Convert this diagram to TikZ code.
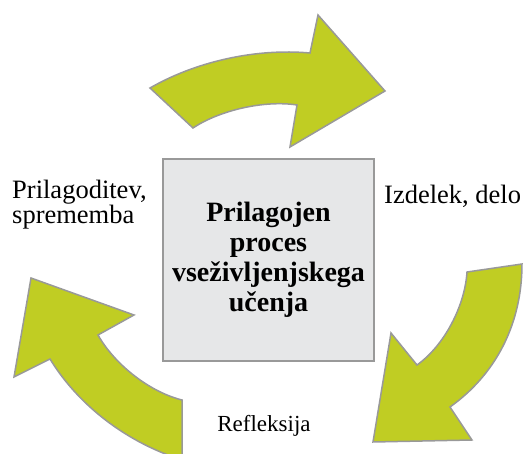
\documentclass[tikz,border=0pt]{standalone}
\usepackage{fontspec}
\setmainfont{Liberation Serif}
\definecolor{leaf}{RGB}{192,205,35}
\definecolor{rim}{RGB}{153,153,153}
\definecolor{boxgray}{RGB}{230,231,232}
\tikzset{
    cyclearrow/.style={fill=leaf,draw=rim,line width=1.5pt,line join=miter},
    corebox/.style={fill=boxgray,draw=rim,line width=1.5pt,minimum width=211pt,minimum height=202pt,
        align=center,font=\bfseries\fontsize{28}{30}\selectfont},
    stagelabel/.style={font=\fontsize{26.5}{25}\selectfont,align=left,inner sep=0pt},
}

\begin{document}
\begin{tikzpicture}[x=1pt,y=-1pt]
\useasboundingbox (0,0) rectangle (523,454);
\clip (0,0) rectangle (523,454);
% arrows of the cycle
\draw[cyclearrow] (150,88) .. controls (195,62) and (255,48) .. (310,53) -- (318,15) -- (385,91) -- (290,147) -- (297,105) .. controls (265,100) and (220,110) .. (193,128) -- cycle;
\draw[cyclearrow] (467,272) -- (522,264) .. controls (522,325) and (495,375) .. (450,407) -- (472,440) -- (373,442) -- (391,333) -- (417,365) .. controls (445,345) and (465,305) .. cycle;
\draw[cyclearrow] (31,278) -- (134,315) -- (98,335) .. controls (115,365) and (150,392) .. (182,400) -- (182,460) .. controls (120,440) and (75,400) .. (50,359) -- (14,377) -- cycle;
% centre
\node[corebox] (core) at (268.5,260) {Prilagojen\\proces\\vseživljenjskega\\učenja};
% stages
\node[stagelabel,anchor=base west] (product) at (384,204) {Izdelek, delo};
\node[stagelabel,anchor=base,font=\fontsize{23}{25}\selectfont] (reflect) at (264,432) {Refleksija};
\node[stagelabel,anchor=north west] (adapt) at (12,180) {Prilagoditev,\\sprememba};
\end{tikzpicture}
\end{document}
